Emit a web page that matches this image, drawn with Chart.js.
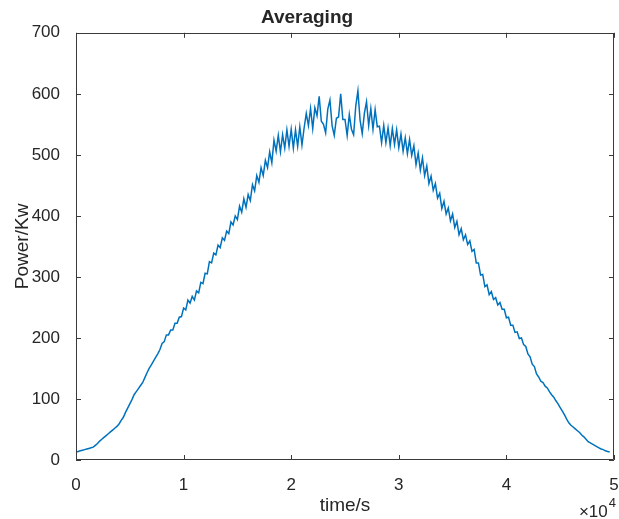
<!DOCTYPE html>
<html>
<head>
<meta charset="utf-8">
<script src="https://cdn.jsdelivr.net/npm/chart.js@4.4.1/dist/chart.umd.min.js"></script>
<style>
  html, body { margin: 0; padding: 0; background: #ffffff; }
  #wrap { width: 619px; height: 519px; }
</style>
</head>
<body>
<div id="wrap"><canvas id="c" width="619" height="519"></canvas></div>
<script>
// ---- data ----
const chartTitle = "Averaging";
const xAxisLabel = "time/s";
const yAxisLabel = "Power/Kw";
const timeStart = 0;      // s
const timeStep = 200;     // s between samples
const xTickValues = [0, 10000, 20000, 30000, 40000, 50000];
const xTickLabels = ["0", "1", "2", "3", "4", "5"];
const xExponentText = "\u00d710";
const xExponentPower = "4";
const yTickValues = [0, 100, 200, 300, 400, 500, 600, 700];
const powerKw = [
  13, 14, 15, 16, 17, 18, 19, 20, 21, 24,
  27, 31, 34, 37, 40, 43, 46, 49, 52, 55,
  59, 65, 70, 78, 85, 92, 99, 107, 112, 117,
  122, 127, 135, 143, 150, 156, 162, 168, 174, 181,
  191, 194, 205, 205, 213, 213, 224, 224, 234, 235,
  249, 246, 262, 257, 268, 262, 277, 274, 291, 289,
  306, 305, 325, 323, 339, 336, 352, 348, 364, 360,
  375, 371, 390, 385, 400, 394, 416, 406, 428, 414,
  435, 425, 451, 441, 466, 455, 479, 466, 491, 479,
  505, 487, 524, 506, 532, 505, 533, 511, 541, 514,
  542, 511, 541, 514, 546, 516, 544, 568, 548, 576,
  543, 577, 564, 596, 555, 550, 536, 575, 590, 548,
  532, 560, 562, 600, 558, 558, 532, 566, 542, 533,
  580, 605, 557, 535, 568, 587, 548, 576, 542, 574,
  546, 547, 520, 548, 520, 544, 515, 543, 517, 541,
  512, 534, 506, 528, 502, 525, 499, 515, 484, 503,
  475, 495, 466, 482, 453, 465, 442, 453, 429, 437,
  412, 424, 403, 413, 392, 403, 381, 391, 369, 379,
  361, 369, 353, 359, 342, 345, 323, 323, 303, 304,
  284, 287, 271, 276, 263, 266, 254, 258, 247, 247,
  233, 234, 221, 221, 209, 210, 199, 200, 189, 186,
  174, 169, 157, 153, 141, 136, 129, 127, 121, 118,
  112, 107, 103, 97, 92, 86, 80, 74, 67, 61,
  57, 54, 51, 48, 45, 41, 38, 34, 30, 28,
  26, 24, 22, 20, 18, 17, 15, 14, 13
];

// ---- build points for the library ----
const points = powerKw.map((v, i) => ({ x: timeStart + i * timeStep, y: v }));

const axisColor = '#3a3a3a';
const textColor = '#262626';
const fontFamily = '"Liberation Sans", Arial, Helvetica, sans-serif';

const boxAndTicks = {
  id: 'boxAndTicks',
  afterDatasetsDraw(chart) {
    const { ctx, chartArea: a, scales } = chart;
    const xs = scales.x, ys = scales.y;
    ctx.save();
    ctx.strokeStyle = axisColor;
    ctx.lineWidth = 1;
    ctx.beginPath();
    ctx.rect(Math.round(a.left) + 0.5, Math.round(a.top) + 0.5,
             Math.round(a.right - a.left) - 1, Math.round(a.bottom - a.top) - 1);
    ctx.stroke();
    const tl = 5;
    ctx.beginPath();
    xTickValues.forEach(v => {
      const px = Math.round(xs.getPixelForValue(v)) + 0.5;
      ctx.moveTo(px, a.bottom); ctx.lineTo(px, a.bottom - tl);
      ctx.moveTo(px, a.top); ctx.lineTo(px, a.top + tl);
    });
    yTickValues.forEach(v => {
      const py = Math.round(ys.getPixelForValue(v)) + 0.5;
      ctx.moveTo(a.left, py); ctx.lineTo(a.left + tl, py);
      ctx.moveTo(a.right, py); ctx.lineTo(a.right - tl, py);
    });
    ctx.stroke();
    // exponent label
    ctx.fillStyle = textColor;
    ctx.textBaseline = 'alphabetic';
    ctx.textAlign = 'left';
    ctx.font = '17px ' + fontFamily;
    const base = ctx.measureText(xExponentText).width;
    ctx.font = '13px ' + fontFamily;
    const sup = ctx.measureText(xExponentPower).width;
    const startX = a.right + 1 - base - sup;
    ctx.font = '17px ' + fontFamily;
    ctx.fillText(xExponentText, startX, 517);
    ctx.font = '13px ' + fontFamily;
    ctx.fillText(xExponentPower, startX + base + 1, 507);
    ctx.restore();
  }
};

new Chart(document.getElementById('c'), {
  type: 'line',
  data: {
    datasets: [{
      data: points,
      borderColor: '#0072BD',
      borderWidth: 1.5,
      pointRadius: 0,
      tension: 0,
      fill: false
    }]
  },
  options: {
    responsive: false,
    animation: false,
    parsing: true,
    layout: { padding: { left: 0, right: 5, top: 0, bottom: 0 } },
    plugins: {
      legend: { display: false },
      tooltip: { enabled: false },
      title: {
        display: true,
        text: chartTitle,
        color: textColor,
        font: { family: fontFamily, size: 19, weight: 'bold', lineHeight: 1.2 },
        padding: { top: 6, bottom: 4 }
      }
    },
    scales: {
      x: {
        type: 'linear',
        min: 0,
        max: 50000,
        afterFit(scale) { scale.height = 59; scale.paddingLeft = 0; scale.paddingRight = 0; },
        afterBuildTicks(scale) { scale.ticks = xTickValues.map(v => ({ value: v })); },
        grid: { display: false },
        border: { display: false },
        ticks: {
          color: textColor,
          font: { family: fontFamily, size: 17 },
          padding: 7,
          maxRotation: 0,
          callback: (v) => xTickLabels[xTickValues.indexOf(v)]
        },
        title: {
          display: true,
          text: xAxisLabel,
          color: textColor,
          font: { family: fontFamily, size: 19 },
          padding: { top: 2, bottom: 2 }
        }
      },
      y: {
        type: 'linear',
        min: 0,
        max: 700,
        afterFit(scale) { scale.width = 76; scale.paddingTop = 0; scale.paddingBottom = 0; },
        afterBuildTicks(scale) { scale.ticks = yTickValues.map(v => ({ value: v })); },
        grid: { display: false },
        border: { display: false },
        ticks: {
          color: textColor,
          font: { family: fontFamily, size: 17 },
          padding: 8
        },
        title: {
          display: true,
          text: yAxisLabel,
          color: textColor,
          font: { family: fontFamily, size: 19 },
          padding: { top: 11, bottom: 11 }
        }
      }
    }
  },
  plugins: [boxAndTicks]
});
</script>
</body>
</html>
